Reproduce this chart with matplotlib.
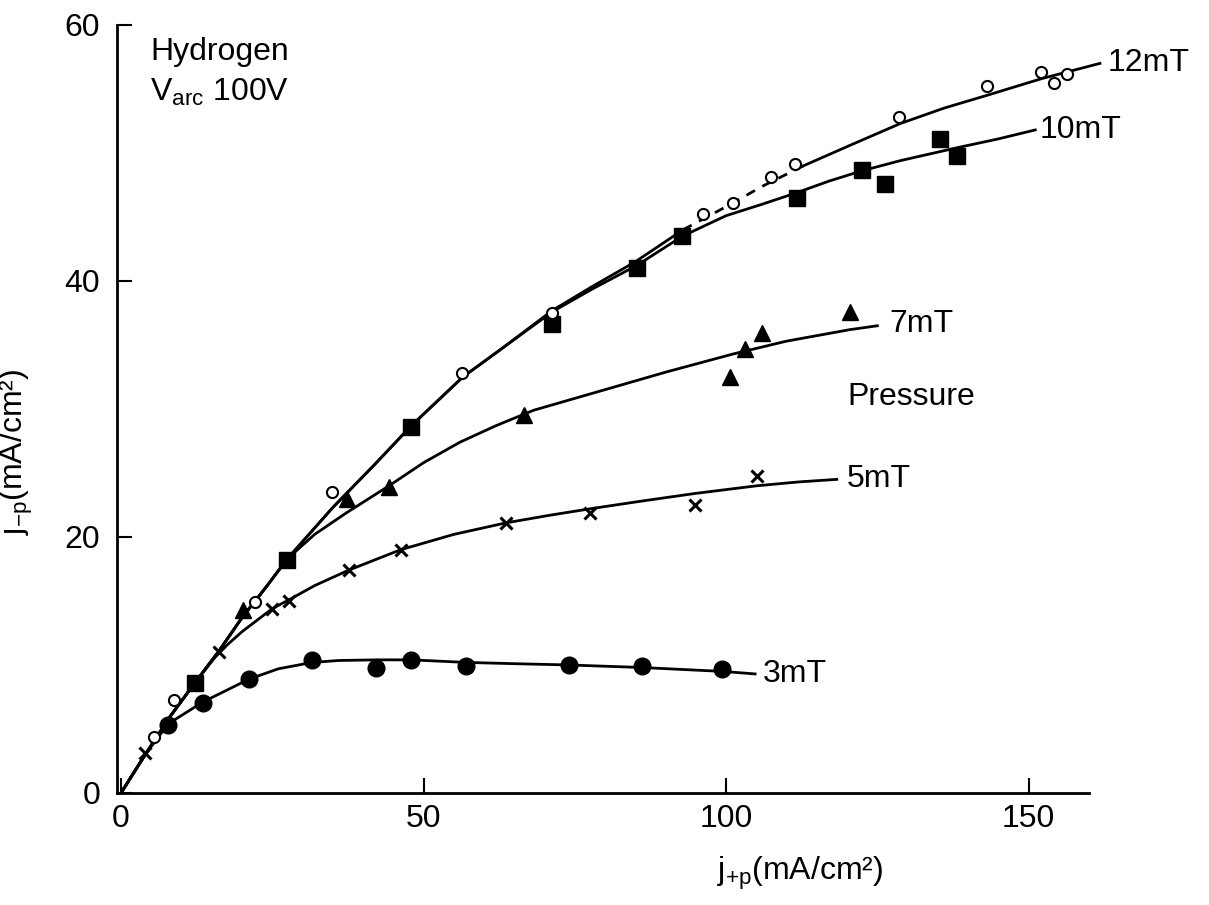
import numpy as np
import matplotlib.pyplot as plt

plt.rcParams['font.family'] = ['Liberation Sans', 'DejaVu Sans']
plt.rcParams['mathtext.default'] = 'regular'

# MEASURED POINTS (j+p, j-p) in mA/cm2
p12_x = [5.5, 8.8, 22.1, 34.8, 56.3, 71.3, 96.2, 101.2, 107.5, 111.4, 128.6, 143.1, 152.1, 154.2, 156.3]
p12_y = [4.4, 7.3, 14.9, 23.5, 32.8, 37.5, 45.2, 46.1, 48.1, 49.1, 52.8, 55.2, 56.3, 55.5, 56.2]

p10_x = [12.2, 27.4, 47.9, 71.3, 85.2, 92.8, 111.7, 122.4, 126.3, 135.4, 138.1]
p10_y = [8.6, 18.2, 28.6, 36.6, 41.0, 43.5, 46.5, 48.7, 47.6, 51.1, 49.8]

p7_x = [20.1, 37.3, 44.3, 66.6, 100.7, 103.1, 105.9, 120.5]
p7_y = [14.3, 23.0, 23.9, 29.5, 32.5, 34.7, 35.9, 37.6]

p5_x = [3.9, 16.2, 25.0, 27.8, 37.6, 46.3, 63.6, 77.5, 94.9, 105.1]
p5_y = [3.1, 11.0, 14.4, 15.0, 17.45, 19.0, 21.1, 21.85, 22.5, 24.8]

p3_x = [7.8, 13.5, 21.2, 31.6, 42.1, 47.9, 57.0, 74.0, 86.1, 99.3]
p3_y = [5.3, 7.05, 8.9, 10.4, 9.8, 10.4, 9.9, 10.0, 9.9, 9.7]

# HAND-DRAWN CURVES (traced)
c12_x = [0, 4, 8, 12.2, 16.2, 20, 24, 27.5, 35, 42, 48, 56.5, 62.6, 71.3, 78, 85, 92.9,
         100, 106, 112.8, 120.5, 128.8, 136, 143.1, 152.1, 161.8]
c12_y = [0, 3.0, 5.9, 8.6, 11.1, 13.7, 16.1, 18.3, 22.3, 25.7, 28.7, 32.5, 34.6, 37.7, 39.6, 41.5, 44.0,
         45.8, 47.4, 49.0, 50.6, 52.3, 53.5, 54.5, 55.8, 57.0]

c10_x = [0, 4, 8, 12.2, 16.2, 20, 24, 27.5, 35, 42, 48, 56.5, 62.6, 71.3, 78, 85.2, 92.8,
         100, 106, 111.7, 117, 122.4, 128.8, 138.1, 145, 151.1]
c10_y = [0, 3.0, 5.9, 8.6, 11.1, 13.7, 16.1, 18.3, 22.3, 25.7, 28.7, 32.5, 34.6, 37.6, 39.4, 41.2, 43.5,
         45.1, 46.0, 46.9, 47.8, 48.6, 49.4, 50.4, 51.1, 51.8]

c7_x = [0, 4, 8, 12.2, 16.2, 20, 24, 27.5, 32, 37.3, 44.3, 50, 56, 62, 68.2, 79.2, 90.2,
        101.2, 110, 120.5, 125]
c7_y = [0, 3.0, 5.9, 8.6, 11.1, 13.7, 16.1, 18.3, 20.2, 21.9, 24.0, 25.8, 27.4, 28.7, 29.9, 31.4, 32.9,
        34.3, 35.3, 36.2, 36.5]

c5_x = [0, 4, 8, 12.2, 16.2, 20, 25.0, 27.8, 32, 37.6, 46.2, 55, 63.6, 70.9, 77.5, 86, 94.9,
        105.1, 112, 118.3]
c5_y = [0, 3.0, 5.9, 8.6, 11.0, 12.6, 14.4, 15.1, 16.2, 17.4, 19.0, 20.2, 21.1, 21.7, 22.2, 22.8, 23.4,
        24.0, 24.3, 24.5]

c3_x = [0, 4, 7.8, 13.5, 21.2, 26, 31.6, 36, 42.3, 47.9, 57, 65, 74, 86.1, 99.3, 104.8]
c3_y = [0, 3.0, 5.4, 7.1, 8.9, 9.7, 10.2, 10.35, 10.4, 10.4, 10.2, 10.1, 10.0, 9.8, 9.5, 9.3]

labels = ["12mT", "10mT", "7mT", "5mT", "3mT"]
label_x = [163.1, 151.9, 127.0, 120.0, 106.1]
label_y = [57.0, 51.8, 36.6, 24.5, 9.3]

#PLOTTING
fig = plt.figure(figsize=(12.09, 9.05), dpi=100)
ax = fig.add_axes([0.0968, 0.1238, 0.804, 0.8486])

lw = 2.0
c12_x = np.array(c12_x)
c12_y = np.array(c12_y)
solid1 = c12_x <= 92.9
dash = (c12_x >= 92.9) & (c12_x <= 112.8)
solid2 = c12_x >= 112.8
ax.plot(c12_x[solid1], c12_y[solid1], color="black", lw=lw, clip_on=False)
ax.plot(c12_x[dash], c12_y[dash], color="black", lw=lw, ls=(0, (3.5, 3)), clip_on=False)
ax.plot(c12_x[solid2], c12_y[solid2], color="black", lw=lw, clip_on=False)
ax.plot(c10_x, c10_y, color="black", lw=lw, clip_on=False)
ax.plot(c7_x, c7_y, color="black", lw=lw, clip_on=False)
ax.plot(c5_x, c5_y, color="black", lw=lw, clip_on=False)
ax.plot(c3_x, c3_y, color="black", lw=lw, clip_on=False)

ax.plot(p10_x, p10_y, "s", color="black", ms=11, clip_on=False, zorder=3)
ax.plot(p7_x, p7_y, "^", color="black", ms=12, clip_on=False, zorder=3)
ax.plot(p5_x, p5_y, "x", color="black", ms=9, mew=2.2, clip_on=False, zorder=3)
ax.plot(p3_x, p3_y, "o", color="black", ms=12, clip_on=False, zorder=3)
ax.plot(p12_x, p12_y, "o", mfc="white", mec="black", ms=8, mew=1.5, clip_on=False, zorder=4)

for t, x, y in zip(labels, label_x, label_y):
    ax.text(x, y, t, fontsize=23, va="center", ha="left")
ax.text(120.0, 30.9, "Pressure", fontsize=23, va="center", ha="left")
ax.text(4.8, 57.3, "Hydrogen", fontsize=23, va="baseline", ha="left")
ax.text(4.8, 54.1, r"V$_{arc}$ 100V", fontsize=23, va="baseline", ha="left")

ax.set_xlim(-0.66, 160)
ax.set_ylim(0, 60)
ax.set_xticks([0, 50, 100, 150])
ax.set_yticks([0, 20, 40, 60])
ax.spines["top"].set_visible(False)
ax.spines["right"].set_visible(False)
ax.spines["left"].set_linewidth(2)
ax.spines["bottom"].set_linewidth(2)
ax.tick_params(direction="in", length=11, width=1.5, labelsize=23, pad=8)
ax.tick_params(axis="y", pad=12)

ax.set_xlabel(r"j$_{+p}$(mA/cm²)", fontsize=23)
ax.set_ylabel(r"j$_{-p}$(mA/cm²)", fontsize=23)
ax.xaxis.set_label_coords(0.703, -0.081)
ax.yaxis.set_label_coords(-0.084, 0.444)

fig.savefig("out.png", dpi=100)
